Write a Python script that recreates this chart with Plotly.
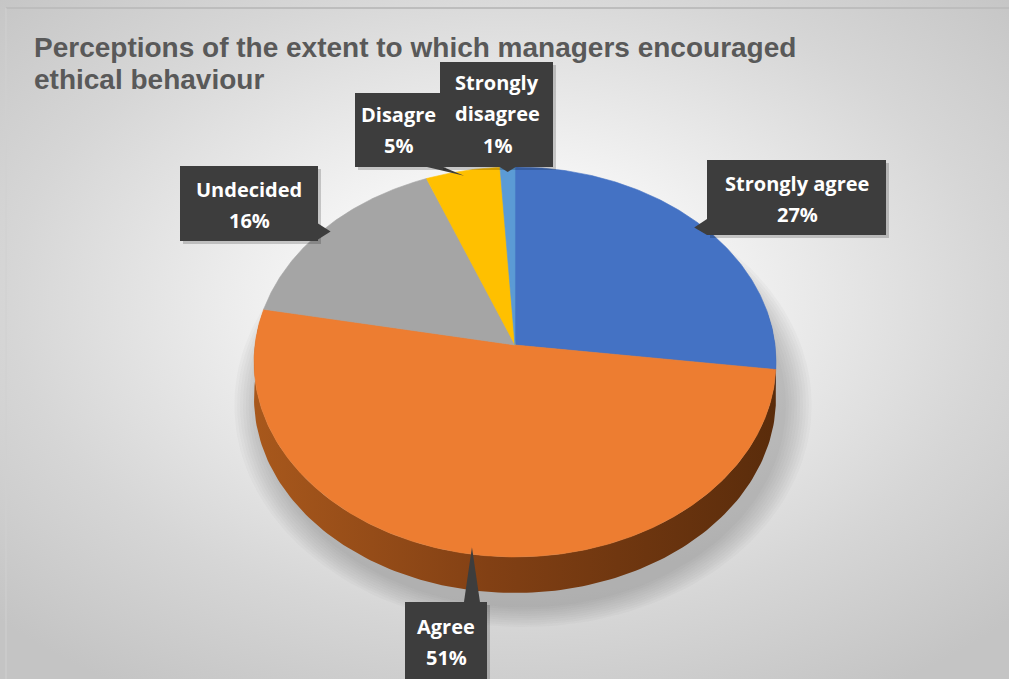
import numpy as np
import plotly.graph_objects as go

# Survey responses: perceptions of managers encouraging ethical behaviour
categories = ["Strongly agree", "Agree", "Undecided", "Disagree", "Strongly disagree"]
shares = [27, 51, 16, 5, 1]
label_names = ["Strongly agree", "Agree", "Undecided", "Disagre", "Strongly<br>disagree"]
slice_colors = ["#4472C4", "#ED7D31", "#A5A5A5", "#FFC000", "#5B9BD5"]
side_colors = ["#2F4F8C", "#8A4414", "#6E6E6E", "#A67D00", "#3C6A94"]

TITLE_LINES = ["Perceptions of the extent to which managers encouraged", "ethical behaviour"]

W, H = 1009, 679

# 3-D pie geometry in pixel space (y grows downward), simple perspective tilt
CX, CY = 515, 345      # projected centre of the pie
RX, RY = 260, 193.5    # radii before perspective
PERSP = 0.087          # far half appears smaller than near half
DEPTH = 36


def ellipse_pt(theta_deg, scale=1.0, dy=0.0):
    t = np.radians(theta_deg)
    d = 1.0 + PERSP * scale * np.sin(t)
    x = CX + RX * scale * np.cos(t) / d
    y = CY - RY * scale * np.sin(t) / d + dy
    return x, y


def arc(a0, a1, n=160, dy=0.0):
    th = np.linspace(a0, a1, n)
    return ellipse_pt(th, dy=dy)


fig = go.Figure()

# chart-area background with radial shading
fig.add_trace(go.Scatter(
    x=[-200, 1210, 1210, -200, -200], y=[-160, -160, 760, 760, -160],
    mode="lines", line=dict(width=0), fill="toself",
    fillgradient=dict(type="radial",
                      colorscale=[[0, "#ffffff"], [0.2, "#fafafa"], [0.7, "#d6d6d6"], [1, "#c4c4c4"]]),
    hoverinfo="skip", showlegend=False))

# soft drop shadow under the pie
for i in range(10):
    s = 1.0 + 0.011 * (10 - i)
    th = np.linspace(0, 360, 200)
    t = np.radians(th)
    sx = CX + 8 + RX * s * np.cos(t)
    sy = CY + 60 + 200 * s * np.sin(t)
    fig.add_trace(go.Scatter(x=sx, y=sy, mode="lines", line=dict(width=0), fill="toself",
                             fillcolor="rgba(90,90,90,0.04)", hoverinfo="skip", showlegend=False))

# slice angles: start at 12 o'clock, clockwise
total = float(sum(shares))
starts, ends = [], []
a = 90.0
for v in shares:
    starts.append(a)
    a -= 360.0 * v / total
    ends.append(a)

# visible rim (front part of the pie)
RIM_HI, RIM_LO = 10.0, -190.0
for i, (a0, a1) in enumerate(zip(starts, ends)):
    s_hi, s_lo = min(a0, RIM_HI), max(a1, RIM_LO)
    if s_hi <= s_lo:
        continue
    tx, ty = arc(s_hi, s_lo)
    bx, by = arc(s_lo, s_hi, dy=DEPTH)
    xs = np.concatenate([tx, bx, tx[:1]])
    ys = np.concatenate([ty, by, ty[:1]])
    kw = dict(fillcolor=side_colors[i])
    if categories[i] == "Agree":
        kw = dict(fillgradient=dict(type="horizontal",
                                    colorscale=[[0, "#A8581C"], [0.45, "#824014"], [1, "#5A2C0B"]]))
    fig.add_trace(go.Scatter(x=xs, y=ys, mode="lines", line=dict(width=0), fill="toself",
                             hoverinfo="skip", showlegend=False, **kw))

# top faces of the slices
for i, (a0, a1) in enumerate(zip(starts, ends)):
    ax, ay = arc(a0, a1, n=max(8, int(abs(a1 - a0) * 2)))
    xs = np.concatenate([[CX], ax, [CX]])
    ys = np.concatenate([[CY], ay, [CY]])
    fig.add_trace(go.Scatter(x=xs, y=ys, mode="lines", fill="toself",
                             line=dict(width=0.6, color=slice_colors[i]),
                             fillcolor=slice_colors[i], name=categories[i],
                             hoverinfo="text", text=f"{categories[i]}: {shares[i]}%",
                             showlegend=False))

# data-label callouts: box rectangles and first-line centres
boxes = {
    "Strongly agree": (707, 886, 160, 235),
    "Agree": (405, 487, 602, 700),
    "Undecided": (180, 318, 166, 241),
    "Disagree": (355, 443, 93, 167),
    "Strongly disagree": (440, 553, 62, 167),
}
first_line = {
    "Strongly agree": (797, 183),
    "Agree": (446, 626),
    "Undecided": (249, 189),
    "Disagree": (398, 114),
    "Strongly disagree": (497, 82),
}
LINE = 31.5
BOX_COLOR = "#3D3D3D"

shapes = []
annotations = []
draw_order = ["Strongly agree", "Undecided", "Disagree", "Strongly disagree", "Agree"]
for name in draw_order:
    i = categories.index(name)
    x0, x1, y0, y1 = boxes[name]
    mid = (starts[i] + ends[i]) / 2.0
    tx, ty = ellipse_pt(mid, scale=0.97)
    tx, ty = float(tx), float(ty)
    # pointer base on the box edge facing the slice
    if ty > y1:
        bx = min(max(tx, x0 + 8), x1 - 8)
        base = [(bx - 8, y1), (bx + 8, y1)]
    elif ty < y0:
        bx = min(max(tx, x0 + 8), x1 - 8)
        base = [(bx - 8, y0), (bx + 8, y0)]
    elif tx < x0:
        by = min(max(ty, y0 + 8), y1 - 8)
        base = [(x0, by - 8), (x0, by + 8)]
    else:
        by = min(max(ty, y0 + 8), y1 - 8)
        base = [(x1, by - 8), (x1, by + 8)]
    shapes.append(dict(type="rect", xref="x", yref="y", x0=x0 + 3, x1=x1 + 3, y0=y0 + 3, y1=y1 + 3,
                       fillcolor="rgba(0,0,0,0.18)", line=dict(width=0), layer="above"))
    path = f"M{base[0][0]},{base[0][1]} L{tx},{ty} L{base[1][0]},{base[1][1]} Z"
    shapes.append(dict(type="path", xref="x", yref="y", path=path,
                       fillcolor=BOX_COLOR, line=dict(width=0), layer="above"))
    shapes.append(dict(type="rect", xref="x", yref="y", x0=x0, x1=x1, y0=y0, y1=y1,
                       fillcolor=BOX_COLOR, line=dict(width=0), layer="above"))

for name in draw_order:
    i = categories.index(name)
    cx, cy = first_line[name]
    lines = label_names[i].split("<br>") + [f"{shares[i]}%"]
    for k, txt in enumerate(lines):
        annotations.append(dict(x=cx, y=cy + k * LINE, xref="x", yref="y", text=f"<b>{txt}</b>",
                                showarrow=False, xanchor="center", yanchor="middle",
                                font=dict(family="Open Sans", size=20, color="#FFFFFF")))

for k, txt in enumerate(TITLE_LINES):
    annotations.append(dict(x=32, y=47 + 32 * k, xref="x", yref="y", text=f"<b>{txt}</b>",
                            showarrow=False, xanchor="left", yanchor="middle", align="left",
                            font=dict(family="Liberation Sans", size=28, color="#595959")))

# outer border of the chart area
shapes.append(dict(type="line", xref="x", yref="y", x0=6, x1=W, y0=8, y1=8,
                   line=dict(color="#BDBDBD", width=2), layer="above"))
shapes.append(dict(type="line", xref="x", yref="y", x0=6, x1=6, y0=8, y1=H,
                   line=dict(color="#D0D0D0", width=1), layer="above"))

fig.update_layout(
    width=W, height=H,
    margin=dict(l=0, r=0, t=0, b=0),
    paper_bgcolor="#FFFFFF", plot_bgcolor="rgba(0,0,0,0)",
    xaxis=dict(range=[0, W], visible=False, fixedrange=True),
    yaxis=dict(range=[H, 0], visible=False, fixedrange=True),
    shapes=shapes, annotations=annotations,
    showlegend=False,
)

fig.write_html("out.html")
